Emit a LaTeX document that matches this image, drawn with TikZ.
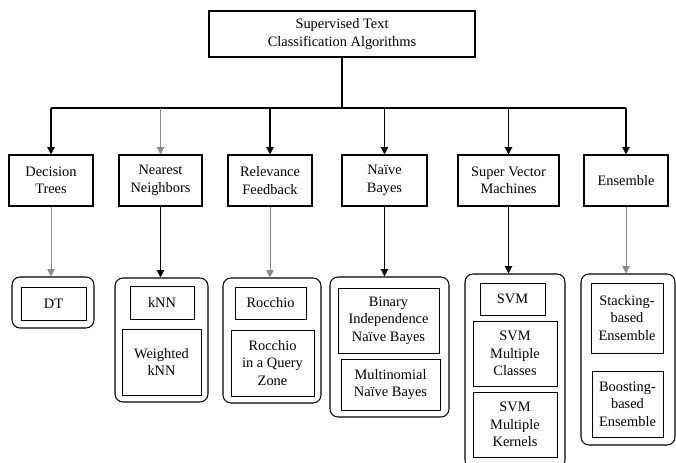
\documentclass[tikz,border=0pt]{standalone}
\usepackage{fontspec}
\setmainfont{Liberation Serif}
\usetikzlibrary{arrows.meta,positioning}
\definecolor{linegray}{HTML}{8A8A8A}
\tikzset{
  blk/.style={draw, line width=.8pt, fill=white, align=center, inner sep=1pt, font=\fontsize{10.8}{13.2}\selectfont},
  top/.style={blk, line width=1.1pt},
  grp/.style={draw, rounded corners=6pt, line width=.8pt, inner sep=0pt},
  leaf/.style={blk, line width=.7pt},
  ar/.style={-{Triangle[length=5.5pt,width=5.5pt]}, line width=.9pt},
  arl/.style={-{Triangle[length=5.5pt,width=5.5pt]}, line width=.5pt, draw=linegray},
}
\begin{document}
\begin{tikzpicture}[x=.75pt,y=-.75pt]
  \useasboundingbox (0,0) rectangle (676,463);
  % root
  \node[top, minimum width=199.5pt, minimum height=34.5pt] (root) at (342,34) {Supervised Text\\Classification Algorithms};
  % families
  \node[blk, minimum width=63pt, minimum height=38.25pt] (dt) at (51,180.5) {Decision\\Trees};
  \node[blk, minimum width=62.25pt, minimum height=38.25pt] (nn) at (160.5,180.5) {Nearest\\Neighbors};
  \node[blk, minimum width=63pt, minimum height=38.25pt] (rf) at (270,180.5) {Relevance\\Feedback};
  \node[blk, minimum width=63.75pt, minimum height=38.25pt] (nb) at (384.5,180.5) {Naïve\\Bayes};
  \node[blk, minimum width=75.75pt, minimum height=38.25pt] (svm) at (508.5,180.5) {Super Vector\\Machines};
  \node[blk, minimum width=63pt, minimum height=38.25pt] (ens) at (626,180.5) {Ensemble};
  % groups
  \node[grp, minimum width=61.5pt, minimum height=38.25pt] (gdt) at (53,302.5) {};
  \node[grp, minimum width=69.75pt, minimum height=93pt] (gnn) at (161.5,340) {};
  \node[grp, minimum width=73.5pt, minimum height=93.75pt] (grf) at (272,340.5) {};
  \node[grp, minimum width=89.25pt, minimum height=105pt] (gnb) at (389.5,347) {};
  \node[grp, minimum width=75pt, minimum height=145.5pt] (gsvm) at (515,371) {};
  \node[grp, minimum width=70.5pt, minimum height=128.25pt] (gens) at (628,359.5) {};
  % algorithms
  \node[leaf, minimum width=48.75pt, minimum height=24.75pt] (dtalg) at (53.5,303.5) {DT};
  \node[leaf, minimum width=48pt, minimum height=24.75pt] (knn) at (162,302.5) {kNN};
  \node[leaf, minimum width=59.25pt, minimum height=49.5pt] (wknn) at (161.5,362) {Weighted\\kNN};
  \node[leaf, minimum width=53.25pt, minimum height=24pt] (roc) at (270.5,303) {Rocchio};
  \node[leaf, minimum width=62.25pt, minimum height=49.5pt] (rocq) at (272.5,363) {Rocchio\\in a Query\\Zone};
  \node[leaf, minimum width=75.75pt, minimum height=48.75pt] (binb) at (388.5,320.5) {Binary\\Independence\\Naïve Bayes};
  \node[leaf, minimum width=74.25pt, minimum height=38.25pt] (mnb) at (390.5,384.5) {Multinomial\\Naïve Bayes};
  \node[leaf, minimum width=48.75pt, minimum height=24pt] (svmalg) at (512.5,299) {SVM};
  \node[leaf, minimum width=63pt, minimum height=48.75pt] (svmmc) at (515,353.5) {SVM\\Multiple\\Classes};
  \node[leaf, minimum width=63pt, minimum height=48.75pt] (svmmk) at (515,424.5) {SVM\\Multiple\\Kernels};
  \node[leaf, minimum width=54pt, minimum height=52.5pt] (stk) at (627,318) {Stacking-\\based\\Ensemble};
  \node[leaf, minimum width=53.25pt, minimum height=49.5pt] (bst) at (627.5,404) {Boosting-\\based\\Ensemble};
  % connectors
  \coordinate (bus) at (root.south |- 0,108);
  \draw[line width=.9pt] (root.south) -- (bus);
  \draw[line width=.9pt] (bus -| dt.north) -- (bus -| ens.north);
  \draw[ar] (bus -| dt.north) -- (dt.north);
  \draw[arl] (bus -| nn.north) -- (nn.north);
  \draw[ar] (bus -| rf.north) -- (rf.north);
  \draw[ar] (bus -| nb.north) -- (nb.north);
  \draw[ar] (bus -| svm.north) -- (svm.north);
  \draw[ar] (bus -| ens.north) -- (ens.north);
  \draw[arl] (dt.south) -- (dt.south |- gdt.north);
  \draw[ar] (nn.south) -- (nn.south |- gnn.north);
  \draw[arl] (rf.south) -- (rf.south |- grf.north);
  \draw[ar] (nb.south) -- (nb.south |- gnb.north);
  \draw[ar] (svm.south) -- (svm.south |- gsvm.north);
  \draw[arl] (ens.south) -- (ens.south |- gens.north);
\end{tikzpicture}
\end{document}
